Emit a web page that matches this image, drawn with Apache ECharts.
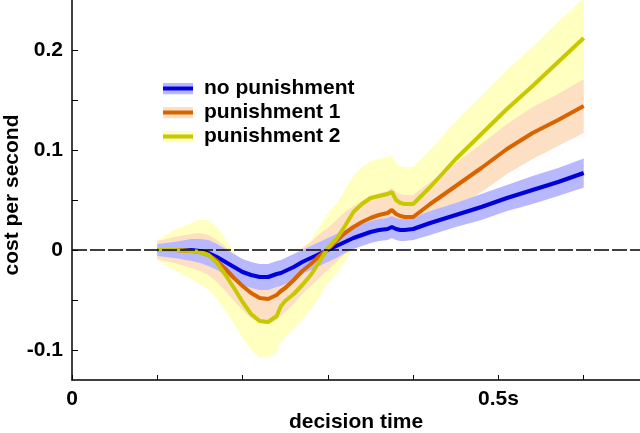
<!DOCTYPE html>
<html><head><meta charset="utf-8">
<script src="https://cdn.jsdelivr.net/npm/echarts@6/dist/echarts.min.js"></script>
<style>html,body{margin:0;padding:0;background:#fff}#c{width:640px;height:433px}</style>
</head><body><div id="c"></div>
<script>
// ---- data ----
const seriesNames = ['no punishment', 'punishment 1', 'punishment 2'];
const time = [0.10,0.12,0.14,0.15,0.16,0.17,0.18,0.19,0.20,0.21,0.22,0.23,0.24,0.245,0.25,0.26,0.27,0.28,0.29,0.30,0.31,0.32,0.33,0.34,0.35,0.36,0.37,0.375,0.38,0.385,0.39,0.40,0.42,0.45,0.48,0.51,0.54,0.57,0.60];
const noPunishment = [0,0,0,-0.001,-0.003,-0.007,-0.012,-0.017,-0.022,-0.025,-0.027,-0.027,-0.024,-0.023,-0.021,-0.017,-0.012,-0.008,-0.004,0.000,0.004,0.008,0.012,0.015,0.018,0.020,0.021,0.023,0.021,0.020,0.020,0.021,0.027,0.035,0.043,0.052,0.060,0.068,0.077];
const punishment1 = [0,0,-0.001,-0.002,-0.005,-0.011,-0.019,-0.028,-0.036,-0.043,-0.048,-0.049,-0.045,-0.041,-0.038,-0.030,-0.021,-0.014,-0.006,0.001,0.009,0.017,0.023,0.028,0.032,0.035,0.037,0.040,0.036,0.034,0.033,0.033,0.046,0.064,0.082,0.101,0.117,0.130,0.144];
const punishment2 = [0,0,-0.001,-0.002,-0.005,-0.013,-0.025,-0.038,-0.052,-0.064,-0.071,-0.072,-0.066,-0.056,-0.051,-0.044,-0.035,-0.025,-0.012,0.002,0.011,0.024,0.038,0.046,0.052,0.054,0.056,0.058,0.050,0.047,0.046,0.046,0.063,0.091,0.116,0.141,0.164,0.188,0.212];
// half widths of the shaded error bands
const noPunishmentErr = [0.006,0.008,0.011,0.012,0.013,0.013,0.013,0.013,0.013,0.013,0.013,0.013,0.013,0.013,0.013,0.013,0.012,0.012,0.012,0.012,0.012,0.011,0.011,0.011,0.011,0.011,0.011,0.011,0.011,0.011,0.011,0.011,0.012,0.012,0.013,0.013,0.014,0.014,0.0145];
const punishment1Err = [0.009,0.013,0.017,0.019,0.020,0.021,0.022,0.023,0.024,0.025,0.025,0.025,0.025,0.025,0.024,0.024,0.023,0.022,0.022,0.021,0.021,0.021,0.021,0.021,0.021,0.022,0.022,0.022,0.022,0.022,0.022,0.022,0.022,0.023,0.024,0.025,0.026,0.026,0.027];
const punishment2Err = [0.010,0.020,0.028,0.032,0.035,0.036,0.036,0.036,0.036,0.036,0.036,0.036,0.036,0.036,0.036,0.035,0.035,0.035,0.035,0.035,0.035,0.036,0.036,0.037,0.037,0.037,0.037,0.037,0.037,0.037,0.037,0.037,0.037,0.038,0.038,0.039,0.039,0.040,0.040];
const xTickLabels = {0: '0', 0.5: '0.5s'};
const yTickLabels = {'-0.1': '-0.1', '0': '0', '0.1': '0.1', '0.2': '0.2'};

// ---- styling ----
const lineColors = ['#0000dc', '#d86400', '#c8c800'];
const bandColors = ['#b8b8ff', '#fde0c4', '#ffffc0'];
const FONT = 'Liberation Sans';
const means = [noPunishment, punishment1, punishment2];
const errs = [noPunishmentErr, punishment1Err, punishment2Err];

function icon(band, line) {
  const svg = '<svg xmlns="http://www.w3.org/2000/svg" width="30" height="12"><rect width="30" height="12" fill="' + band + '"/><rect y="4" width="30" height="4" fill="' + line + '"/></svg>';
  return 'image://data:image/svg+xml;charset=utf-8,' + encodeURIComponent(svg);
}

function bandSeries(i) {
  const m = means[i], e = errs[i];
  return {
    type: 'custom',
    name: seriesNames[i] + ' band',
    coordinateSystem: 'cartesian2d',
    clip: true,
    silent: true,
    z: 2,
    data: [[time[0], m[0]]],
    encode: {x: 0, y: 1},
    renderItem: function (params, api) {
      const pts = [];
      for (let k = 0; k < time.length; k++) pts.push(api.coord([time[k], m[k] + e[k]]));
      for (let k = time.length - 1; k >= 0; k--) pts.push(api.coord([time[k], m[k] - e[k]]));
      return {
        type: 'polygon',
        shape: {points: pts},
        style: {fill: bandColors[i], stroke: null},
        clipPath: {type: 'rect', shape: {x: params.coordSys.x, y: params.coordSys.y, width: params.coordSys.width, height: params.coordSys.height}}
      };
    }
  };
}

function lineSeries(i) {
  return {
    type: 'line',
    name: seriesNames[i],
    data: time.map((t, k) => [t, means[i][k]]),
    showSymbol: false,
    symbol: 'none',
    smooth: false,
    z: 3,
    lineStyle: {color: lineColors[i], width: 4},
    itemStyle: {color: lineColors[i]}
  };
}

const series = [];
// zero line, drawn beneath the bands
series.push({
  type: 'line', name: 'zero', data: [], z: 1, silent: true,
  markLine: {
    silent: true, symbol: ['none', 'none'], label: {show: false},
    lineStyle: {color: '#000', width: 1.5, type: [15, 3]},
    emphasis: {disabled: true},
    data: [{yAxis: 0}]
  }
});
series.push(bandSeries(2), bandSeries(1), bandSeries(0));
series.push(lineSeries(0), lineSeries(1), lineSeries(2));

const chart = echarts.init(document.getElementById('c'), null, {renderer: 'canvas'});
chart.setOption({
  animation: false,
  backgroundColor: '#fff',
  textStyle: {fontFamily: FONT},
  grid: {left: 72, right: 0, top: 0, bottom: 53, containLabel: false, outerBoundsMode: 'none'},
  legend: {
    orient: 'vertical', left: 158, top: 73,
    itemWidth: 30, itemHeight: 12, itemGap: 3,
    selectedMode: false,
    textStyle: {fontFamily: FONT, fontSize: 21, fontWeight: 'bold', color: '#000', lineHeight: 21, padding: [0, 0, 0, 6]},
    data: seriesNames.map((n, i) => ({name: n, icon: icon(bandColors[i], lineColors[i])}))
  },
  xAxis: {
    type: 'value', min: 0, max: 0.666, interval: 0.1,
    name: 'decision time', nameLocation: 'middle', nameGap: 32, nameMoveOverlap: false,
    nameTextStyle: {fontFamily: FONT, fontSize: 21, fontWeight: 'bold', color: '#000'},
    axisLine: {show: true, onZero: false, lineStyle: {color: '#000', width: 1.5}},
    axisTick: {show: true, inside: true, length: 5, lineStyle: {color: '#000', width: 1}},
    splitLine: {show: false},
    axisLabel: {
      margin: 9, fontFamily: FONT, fontSize: 21, fontWeight: 'bold', color: '#000',
      showMaxLabel: false,
      formatter: v => { const r = Math.round(v * 10) / 10; return Math.abs(v - r) < 1e-6 && xTickLabels[r] !== undefined ? xTickLabels[r] : ''; }
    }
  },
  yAxis: {
    type: 'value', min: -0.13, max: 0.25, splitNumber: 8,
    name: 'cost per second', nameLocation: 'middle', nameGap: 49, nameRotate: 90, nameMoveOverlap: false,
    nameTextStyle: {fontFamily: FONT, fontSize: 21, fontWeight: 'bold', color: '#000', padding: [0, 10, 0, 0]},
    axisLine: {show: true, onZero: false, lineStyle: {color: '#000', width: 1.5}},
    axisTick: {show: true, inside: true, length: 6, lineStyle: {color: '#000', width: 1}},
    splitLine: {show: false},
    axisLabel: {
      margin: 9, fontFamily: FONT, fontSize: 21, fontWeight: 'bold', color: '#000',
      showMinLabel: false, showMaxLabel: false,
      formatter: v => { const r = Math.round(v * 10) / 10; return Math.abs(v - r) < 1e-6 && yTickLabels[String(r)] !== undefined ? yTickLabels[String(r)] : ''; }
    }
  },
  series: series
});
</script>
</body></html>
